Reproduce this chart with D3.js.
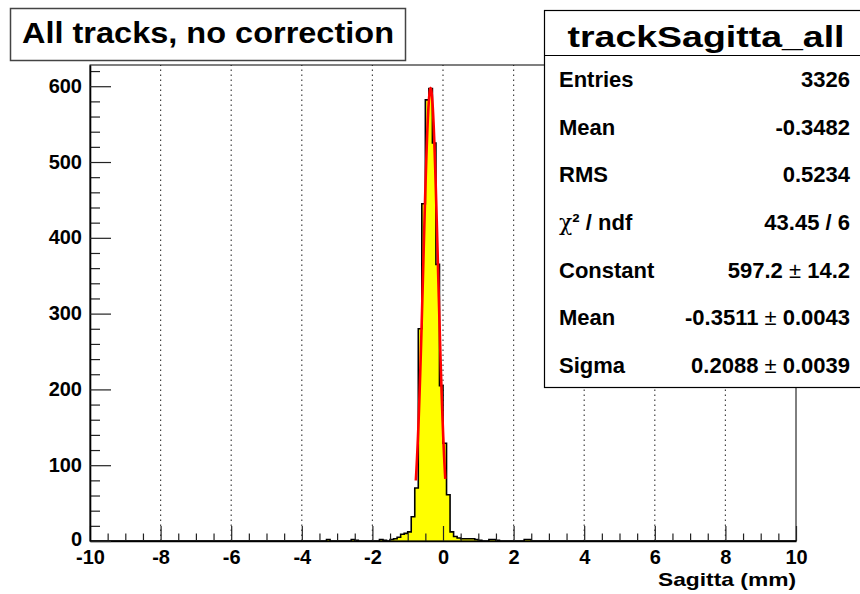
<!DOCTYPE html>
<html>
<head>
<meta charset="utf-8">
<script src="https://cdn.jsdelivr.net/npm/d3@7"></script>
<style>
  body { margin: 0; background: #fff; }
  svg { display: block; font-family: "Liberation Sans", Arial, Helvetica, sans-serif; }
</style>
</head>
<body>
<script>
// histogram: lower edge of every non-empty bin and its content (bin width 0.1)
const binStarts = [-3.3, -2.6, -2.5, -1.8, -1.7, -1.5, -1.4, -1.3, -1.2, -1.1, -1.0, -0.9, -0.8, -0.7, -0.6, -0.5,
                   -0.4, -0.3, -0.2, -0.1, 0.0, 0.1, 0.2, 0.3, 0.4, 0.5, 0.6, 0.7, 0.8, 0.9, 1.0, 1.3, 1.4, 1.5, 2.3, 2.4];
const binCounts = [2, 2, 1, 2, 1, 2, 3, 5, 9, 10, 12, 32, 70, 280, 445, 582,
                   597, 525, 365, 205, 129, 61, 12, 6, 4, 3, 3, 3, 3, 2, 1, 2, 2, 1, 2, 2];
const binWidth = 0.1;

// gaussian fit
const fitConstant = 597.2;
const fitMean = -0.3511;
const fitSigma = 0.2088;
const fitRange = [-0.77, 0.065];

const xTicks = [-10, -8, -6, -4, -2, 0, 2, 4, 6, 8, 10];
const yTicks = [0, 100, 200, 300, 400, 500, 600];

const titleText = "All tracks, no correction";
const statsTitle = "trackSagitta_all";
const statLabels = ["Entries", "Mean", "RMS", "χ² / ndf", "Constant", "Mean", "Sigma"];
const statValues = ["3326", "-0.3482", "0.5234", "43.45 / 6", "597.2 ± 14.2", "-0.3511 ± 0.0043", "0.2088 ± 0.0039"];

const width = 860, height = 594;
const margin = { left: 90, right: 64, top: 65, bottom: 53 };

const svg = d3.select("body").append("svg")
    .attr("width", width)
    .attr("height", height);

const x = d3.scaleLinear().domain([-10, 10]).range([margin.left, width - margin.right]);
const y = d3.scaleLinear().domain([0, 628]).range([height - margin.bottom, margin.top]);

// full histogram
const bins = d3.range(200).map(i => ({ x0: -10 + i * binWidth, n: 0 }));
binStarts.forEach((s, i) => {
    const k = Math.round((s + 10) / binWidth);
    bins[k].n = binCounts[i];
});
const stepPts = bins.map(b => [b.x0, b.n]).concat([[10, 0]]);

// vertical dotted grid
svg.append("g")
    .selectAll("line")
    .data(xTicks.slice(1, -1))
    .join("line")
    .attr("x1", d => x(d)).attr("x2", d => x(d))
    .attr("y1", y.range()[0]).attr("y2", y.range()[1])
    .attr("stroke", "#444")
    .attr("stroke-width", 1.2)
    .attr("stroke-dasharray", "1.5,3.5");

svg.append("path")
    .datum(stepPts)
    .attr("fill", "#ffff00")
    .attr("d", d3.area().curve(d3.curveStepAfter).x(d => x(d[0])).y0(y(0)).y1(d => y(d[1])));

svg.append("path")
    .datum(stepPts)
    .attr("fill", "none")
    .attr("stroke", "#000")
    .attr("stroke-width", 1.6)
    .attr("d", d3.line().curve(d3.curveStepAfter).x(d => x(d[0])).y(d => y(d[1])));

// fit curve
const gaus = v => fitConstant * Math.exp(-0.5 * ((v - fitMean) / fitSigma) ** 2);
const fitPts = d3.range(101).map(i => {
    const v = fitRange[0] + (fitRange[1] - fitRange[0]) * i / 100;
    return [v, gaus(v)];
});
svg.append("path")
    .datum(fitPts)
    .attr("fill", "none")
    .attr("stroke", "#ff0000")
    .attr("stroke-width", 2.6)
    .attr("d", d3.line().x(d => x(d[0])).y(d => y(d[1])));

// frame
svg.append("rect")
    .attr("x", x.range()[0]).attr("y", y.range()[1])
    .attr("width", x.range()[1] - x.range()[0])
    .attr("height", y.range()[0] - y.range()[1])
    .attr("fill", "none")
    .attr("stroke", "#000")
    .attr("stroke-width", 1);

// axes (ticks point inside like ROOT)
const xMinor = d3.range(-10, 10.01, 0.5).filter(v => Math.abs(v % 2) > 0.01);
svg.append("g")
    .attr("transform", `translate(0,${y(0)})`)
    .call(d3.axisBottom(x).tickValues(xMinor).tickSizeInner(-7.5).tickSizeOuter(0).tickFormat(""))
    .call(g => g.select(".domain").remove());
const xAxis = svg.append("g")
    .attr("transform", `translate(0,${y(0)})`)
    .call(d3.axisBottom(x).tickValues(xTicks).tickSizeInner(-15).tickSizeOuter(0).tickPadding(9)
        .tickFormat(d => String(d)));
xAxis.select(".domain").attr("stroke-width", 1.6);

const yMinor = d3.range(0, 628, 20).filter(v => v % 100 !== 0);
svg.append("g")
    .attr("transform", `translate(${x(-10)},0)`)
    .call(d3.axisLeft(y).tickValues(yMinor).tickSizeInner(-10).tickSizeOuter(0).tickFormat(""))
    .call(g => g.select(".domain").remove());
const yAxis = svg.append("g")
    .attr("transform", `translate(${x(-10)},0)`)
    .call(d3.axisLeft(y).tickValues(yTicks).tickSizeInner(-21).tickSizeOuter(0).tickPadding(8)
        .tickFormat(d => String(d)));
yAxis.select(".domain").attr("stroke-width", 1.6);

svg.selectAll(".tick line").attr("stroke", "#222").attr("stroke-width", 1.2);
svg.selectAll(".tick text")
    .attr("fill", "#000")
    .style("font-family", "'Liberation Sans', Arial, sans-serif")
    .style("font-size", "20px")
    .style("font-weight", "bold");
yAxis.selectAll(".tick text").attr("dy", d => d === 0 ? "0.22em" : "0.3em");

svg.append("text")
    .attr("x", x(10)).attr("y", 586)
    .attr("text-anchor", "end")
    .style("font-size", "19px").style("font-weight", "bold")
    .attr("textLength", 138).attr("lengthAdjust", "spacingAndGlyphs")
    .text("Sagitta (mm)");

// title box
svg.append("rect")
    .attr("x", 10.5).attr("y", 8.5).attr("width", 395).attr("height", 52)
    .attr("fill", "#fff").attr("stroke", "#444").attr("stroke-width", 1.5);
svg.append("text")
    .attr("x", 208).attr("y", 43)
    .attr("text-anchor", "middle")
    .style("font-size", "29px").style("font-weight", "bold")
    .attr("textLength", 372).attr("lengthAdjust", "spacingAndGlyphs")
    .text(titleText);

// stats box
const sb = { x: 544.5, y: 10.5, w: 320, h: 377 };
svg.append("rect")
    .attr("x", sb.x).attr("y", sb.y).attr("width", sb.w).attr("height", sb.h)
    .attr("fill", "#fff").attr("stroke", "#000").attr("stroke-width", 1.2);
svg.append("line")
    .attr("x1", sb.x).attr("x2", sb.x + sb.w)
    .attr("y1", 55.5).attr("y2", 55.5)
    .attr("stroke", "#000").attr("stroke-width", 1.2);
svg.append("text")
    .attr("x", 706).attr("y", 47)
    .attr("text-anchor", "middle")
    .style("font-size", "30px").style("font-weight", "bold")
    .attr("textLength", 277).attr("lengthAdjust", "spacingAndGlyphs")
    .text(statsTitle);

const rowY = d3.scaleLinear().domain([0, statLabels.length - 1]).range([87, 373]);
const rows = svg.append("g").style("font-size", "22px").style("font-weight", "bold");
rows.selectAll("text.lab")
    .data(statLabels)
    .join("text")
    .attr("class", "lab")
    .attr("x", 559)
    .attr("y", (d, i) => rowY(i))
    .each(function(d) {
        const t = d3.select(this);
        if (d.startsWith("χ")) {
            t.append("tspan").style("font-weight", "normal").style("font-family", "'DejaVu Serif', serif").text("χ");
            t.append("tspan").text(d.slice(1));
        } else {
            t.text(d);
        }
    });
rows.selectAll("text.val")
    .data(statValues)
    .join("text")
    .attr("class", "val")
    .attr("x", 850)
    .attr("y", (d, i) => rowY(i))
    .attr("text-anchor", "end")
    .each(function(d) {
        const t = d3.select(this);
        const parts = d.split(" ± ");
        if (parts.length === 2) {
            t.append("tspan").text(parts[0]);
            t.append("tspan").style("font-weight", "normal").text(" ± ");
            t.append("tspan").text(parts[1]);
        } else {
            t.text(d);
        }
    });
</script>
</body>
</html>
